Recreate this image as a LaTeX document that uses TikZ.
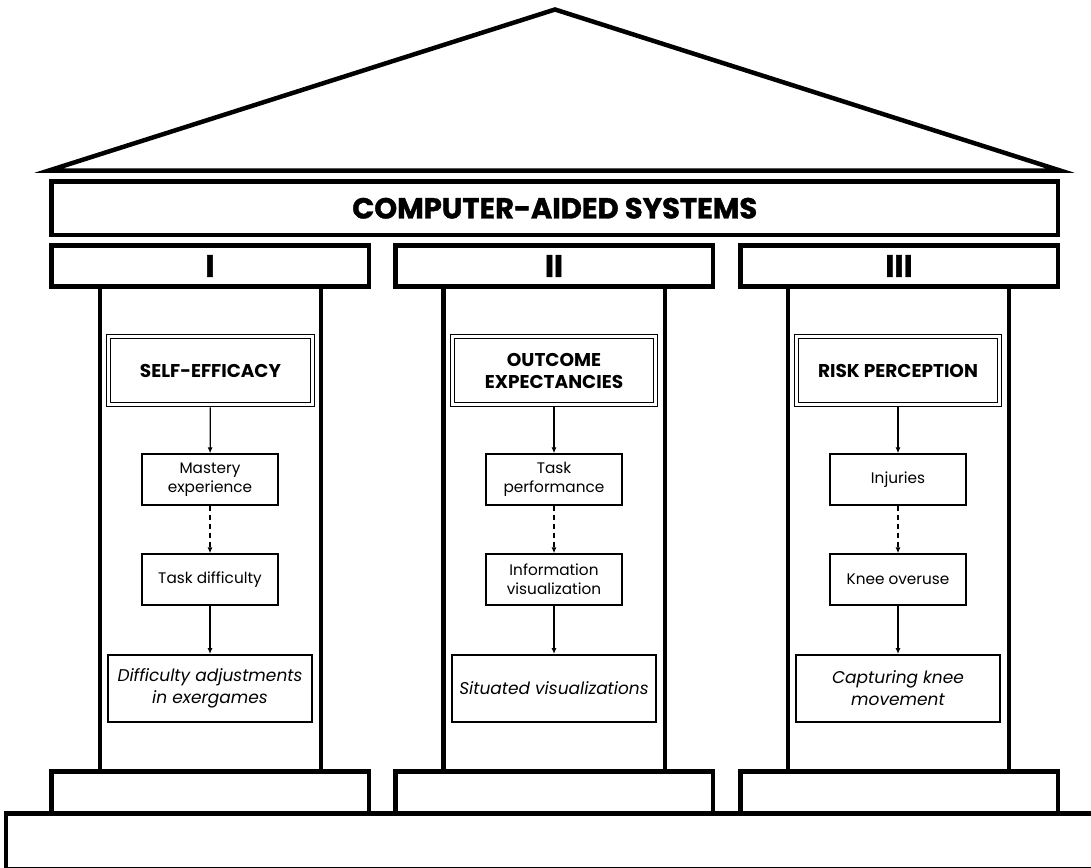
\documentclass[tikz,border=0pt]{standalone}
\usepackage{fontspec}
\setmainfont{Poppins}
\newfontfamily\heavyfont[BoldFeatures={FakeBold=1.2}]{Poppins}
\usetikzlibrary{arrows.meta}
\tikzset{
  thickline/.style={line width=4.5pt, line join=miter},
  headbox/.style={draw, double, double distance=2.6pt, line width=1.1pt, minimum width=203.5pt, minimum height=67.5pt, align=center, inner sep=0pt, font=\fontsize{18.5}{22}\selectfont\bfseries},
  midbox/.style={draw, line width=1.3pt, minimum width=136pt, minimum height=51pt, align=center, inner sep=0pt, font=\fontsize{15.3}{19}\selectfont},
  resultbox/.style={draw, line width=2.4pt, minimum width=203.5pt, minimum height=66.5pt, align=center, inner sep=0pt, font=\fontsize{17}{22}\selectfont\itshape},
  flow/.style={line width=1.2pt, -{Latex[length=6pt,width=5pt]}},
  flowdash/.style={flow, dash pattern=on 5pt off 4pt},
}
\begin{document}
\begin{tikzpicture}[x=1pt,y=-1pt]
\useasboundingbox (0,0) rectangle (1091,867);
\begin{scope}
\clip (0,0) rectangle (1091,867);

% roof
\draw[thickline] (49,170.5) -- (555,9.5) -- (1060,170.5) -- cycle;

% architrave with the title
\node[draw, line width=4.5pt, minimum width=1006.5pt, minimum height=53.5pt, inner sep=0pt,
      font=\fontsize{29}{29}\selectfont\heavyfont\bfseries] (title) at (554.75,208.25) {COMPUTER-AIDED SYSTEMS};

% capitals with roman numerals
\foreach \cx/\lab/\nm in {210/I/capA, 554/II/capB, 899/III/capC}{
  \node[draw, line width=4.5pt, minimum width=317.5pt, minimum height=41pt, inner sep=0pt,
        font=\fontsize{31}{31}\selectfont\heavyfont\bfseries] (\nm) at (\cx,266) {\lab};
}

% column shafts
\foreach \xl/\xr in {100/321, 443.5/665, 788/1009}{
  \draw[line width=4.5pt] (\xl,289) -- (\xl,769);
  \draw[line width=4.5pt] (\xr,289) -- (\xr,769);
}

% column bases
\foreach \cx/\nm in {210/baseA, 554/baseB, 899/baseC}{
  \node[draw, line width=4.5pt, minimum width=317.5pt, minimum height=42pt, inner sep=0pt] (\nm) at (\cx,792.5) {};
}

% stylobate
\draw[line width=4.5pt] (6,813.5) rectangle (1110,869);
\end{scope}

% pillar I
\node[headbox] (h1) at (210.5,370.5) {SELF-EFFICACY};
\node[midbox] (m1) at (210,479.5) {Mastery\\experience};
\node[midbox] (t1) at (210,579.5) {Task difficulty};
\node[resultbox] (r1) at (210,688.5) {Difficulty adjustments\\in exergames};
\draw[flow, shorten <=2.5pt] (h1) -- (m1);
\draw[flowdash] (m1) -- (t1);
\draw[flow] (t1) -- (r1);

% pillar II
\node[headbox] (h2) at (554,370.5) {OUTCOME\\EXPECTANCIES};
\node[midbox] (m2) at (554,479.5) {Task\\performance};
\node[midbox] (t2) at (554,579.5) {Information\\visualization};
\node[resultbox] (r2) at (554,688.5) {Situated visualizations};
\draw[flow, shorten <=2.5pt] (h2) -- (m2);
\draw[flowdash] (m2) -- (t2);
\draw[flow] (t2) -- (r2);

% pillar III
\node[headbox] (h3) at (898,370.5) {RISK PERCEPTION};
\node[midbox] (m3) at (898,479.5) {Injuries};
\node[midbox] (t3) at (898,579.5) {Knee overuse};
\node[resultbox] (r3) at (898,688.5) {Capturing knee\\movement};
\draw[flow, shorten <=2.5pt] (h3) -- (m3);
\draw[flowdash] (m3) -- (t3);
\draw[flow] (t3) -- (r3);
\end{tikzpicture}
\end{document}
